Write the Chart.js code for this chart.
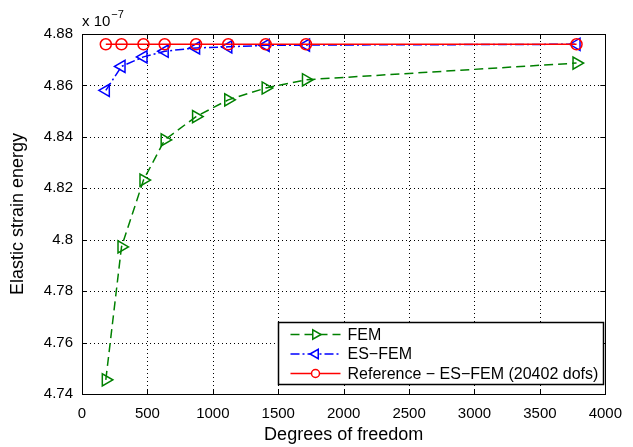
<!DOCTYPE html>
<html>
<head>
<meta charset="utf-8">
<script src="https://cdn.jsdelivr.net/npm/chart.js@4"></script>
<style>
  html, body { margin: 0; padding: 0; background: #fff; }
  #wrap { width: 633px; height: 447px; }
</style>
</head>
<body>
<div id="wrap"><canvas id="myChart" width="633" height="447"></canvas></div>
<script>
// les donnees (energie en 1e-7)
var dofs = [182, 302, 470, 632, 872, 1118, 1404, 1712, 3780];
var fem = [4.7455, 4.7972, 4.8232, 4.8388, 4.8479, 4.8544, 4.8590, 4.8622, 4.8687];
var esfem = [4.8581, 4.8674, 4.8711, 4.8733, 4.8746, 4.8750, 4.8756, 4.8757, 4.8760];
var reference = [4.8760, 4.8760, 4.8760, 4.8760, 4.8760, 4.8760, 4.8760, 4.8760, 4.8760];
var labels = ['FEM', 'ES\u2212FEM', 'Reference \u2212 ES\u2212FEM (20402 dofs)'];
var xTicks = [0, 500, 1000, 1500, 2000, 2500, 3000, 3500, 4000];
var yTicks = [4.74, 4.76, 4.78, 4.8, 4.82, 4.84, 4.86, 4.88];

var police = 'Liberation Sans, Arial, Helvetica, sans-serif';

function points (ys) {
    return dofs.map(function (d, i) { return { x: d, y: ys[i] }; });
}

// grille pointillee sous les courbes
var grille = {
    id: 'grille',
    beforeDatasetsDraw: function (chart) {
        var ctx = chart.ctx;
        var a = chart.chartArea;
        var sx = chart.scales.x, sy = chart.scales.y;
        ctx.save();
        ctx.strokeStyle = '#000';
        ctx.lineWidth = 1;
        ctx.setLineDash([1, 3]);
        ctx.beginPath();
        xTicks.forEach(function (v) {
            var p = Math.round(sx.getPixelForValue(v)) + 0.5;
            ctx.moveTo(p, a.bottom); ctx.lineTo(p, a.top);
        });
        yTicks.forEach(function (v) {
            var p = Math.round(sy.getPixelForValue(v)) + 0.5;
            ctx.moveTo(a.left, p); ctx.lineTo(a.right, p);
        });
        ctx.stroke();
        ctx.restore();
    }
};

// cadre, graduations interieures, legende et multiplicateur
var decor = {
    id: 'decor',
    afterDraw: function (chart) {
        var ctx = chart.ctx;
        var a = chart.chartArea;
        var sx = chart.scales.x, sy = chart.scales.y;
        ctx.save();
        ctx.strokeStyle = '#000';
        ctx.lineWidth = 1;
        ctx.setLineDash([]);
        ctx.strokeRect(Math.round(a.left) + 0.5, Math.round(a.top) + 0.5, Math.round(a.right - a.left), Math.round(a.bottom - a.top));
        ctx.beginPath();
        xTicks.forEach(function (v) {
            var p = Math.round(sx.getPixelForValue(v)) + 0.5;
            ctx.moveTo(p, a.bottom); ctx.lineTo(p, a.bottom - 5);
            ctx.moveTo(p, a.top); ctx.lineTo(p, a.top + 5);
        });
        yTicks.forEach(function (v) {
            var p = Math.round(sy.getPixelForValue(v)) + 0.5;
            ctx.moveTo(a.left, p); ctx.lineTo(a.left + 5, p);
            ctx.moveTo(a.right, p); ctx.lineTo(a.right - 5, p);
        });
        ctx.stroke();

        // x 10^-7
        ctx.fillStyle = '#000';
        ctx.textBaseline = 'alphabetic';
        ctx.textAlign = 'left';
        ctx.font = '15px ' + police;
        ctx.fillText('x 10', a.left, 26);
        var w = ctx.measureText('x 10').width;
        ctx.font = '11px ' + police;
        ctx.fillText('\u22127', a.left + w + 1, 18);

        // legende
        var bx = 278.5, by = 322.5, bw = 325, bh = 62;
        ctx.fillStyle = '#fff';
        ctx.fillRect(bx, by, bw, bh);
        ctx.lineWidth = 1.5;
        ctx.strokeStyle = '#000';
        ctx.strokeRect(bx, by, bw, bh);
        ctx.font = '16px ' + police;
        ctx.textBaseline = 'middle';
        chart.data.datasets.forEach(function (ds, i) {
            var yy = by + 12 + i * 19.5;
            ctx.save();
            ctx.strokeStyle = ds.borderColor;
            ctx.lineWidth = ds.borderWidth;
            ctx.setLineDash(ds.borderDash || []);
            ctx.beginPath();
            ctx.moveTo(bx + 12, yy); ctx.lineTo(bx + 62, yy);
            ctx.stroke();
            ctx.setLineDash([]);
            ctx.fillStyle = '#fff';
            ctx.lineWidth = ds.pointBorderWidth;
            Chart.helpers.drawPoint(ctx, {
                pointStyle: ds.pointStyle, rotation: ds.pointRotation || 0,
                radius: ds.pointRadius - 1.5, borderWidth: ds.pointBorderWidth
            }, bx + 37, yy);
            ctx.restore();
            ctx.fillStyle = '#000';
            ctx.fillText(ds.label, bx + 69, yy + 1);
        });
        ctx.restore();
    }
};

var ctx = document.getElementById('myChart').getContext('2d');
var chart = new Chart(ctx, {
    type: 'line',
    data: {
        datasets: [{
            label: labels[0],
            data: points(fem),
            order: 3,
            borderColor: '#008000',
            backgroundColor: 'rgba(0,0,0,0)',
            borderWidth: 1.5,
            borderDash: [9, 5],
            pointStyle: 'triangle',
            pointRotation: 90,
            pointRadius: 7,
            pointBorderWidth: 1.5,
            pointBorderColor: '#008000',
            pointBackgroundColor: 'rgba(0,0,0,0)'
        }, {
            label: labels[1],
            data: points(esfem),
            order: 2,
            borderColor: '#0000ff',
            backgroundColor: 'rgba(0,0,0,0)',
            borderWidth: 1.5,
            borderDash: [9, 3, 2, 3],
            pointStyle: 'triangle',
            pointRotation: -90,
            pointRadius: 7,
            pointBorderWidth: 1.5,
            pointBorderColor: '#0000ff',
            pointBackgroundColor: 'rgba(0,0,0,0)'
        }, {
            label: labels[2],
            data: points(reference),
            order: 1,
            borderColor: '#ff0000',
            backgroundColor: 'rgba(0,0,0,0)',
            borderWidth: 1.5,
            pointStyle: 'circle',
            pointRadius: 5.5,
            pointBorderWidth: 1.5,
            pointBorderColor: '#ff0000',
            pointBackgroundColor: 'rgba(0,0,0,0)'
        }]
    },
    options: {
        responsive: false,
        animation: false,
        layout: { padding: { top: 34, right: 19, left: 0, bottom: 0 } },
        plugins: { legend: { display: false }, tooltip: { enabled: false } },
        elements: { line: { tension: 0 } },
        scales: {
            x: {
                type: 'linear',
                min: 0, max: 4000,
                afterBuildTicks: function (s) { s.ticks = xTicks.map(function (v) { return { value: v }; }); },
                afterFit: function (s) { s.height = 53; },
                grid: { display: false, drawTicks: false },
                border: { display: false },
                ticks: {
                    color: '#000', font: { family: police, size: 15 }, padding: 11, maxRotation: 0,
                    callback: function (v) { return String(v); }
                },
                title: { display: true, text: 'Degrees of freedom', color: '#000', font: { family: police, size: 18 }, padding: { top: 0, bottom: 1 } }
            },
            y: {
                min: 4.74, max: 4.88,
                afterBuildTicks: function (s) { s.ticks = yTicks.map(function (v) { return { value: v }; }); },
                afterFit: function (s) { s.width = 82; },
                grid: { display: false, drawTicks: false },
                border: { display: false },
                ticks: {
                    color: '#000', font: { family: police, size: 15 }, padding: 9,
                    callback: function (v) { return String(Math.round(v * 100) / 100); }
                },
                title: { display: true, text: 'Elastic strain energy', color: '#000', font: { family: police, size: 18 }, padding: { top: 7, bottom: 4 } }
            }
        }
    },
    plugins: [grille, decor]
});
</script>
</body>
</html>
